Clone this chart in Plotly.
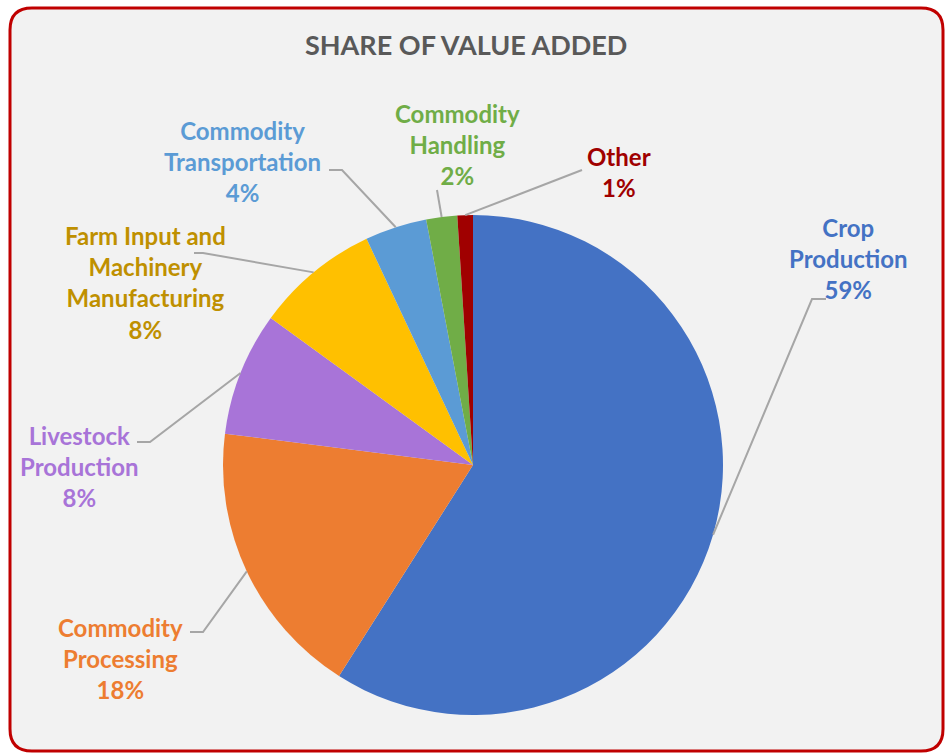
import math
import plotly.graph_objects as go

W, H = 948, 755

# ---- data ----
categories = ["Crop Production", "Commodity Processing", "Livestock Production",
              "Farm Input and Machinery Manufacturing", "Commodity Transportation",
              "Commodity Handling", "Other"]
label_lines = ["Crop<br>Production", "Commodity<br>Processing", "Livestock<br>Production",
               "Farm Input and<br>Machinery<br>Manufacturing", "Commodity<br>Transportation",
               "Commodity<br>Handling", "Other"]
values = [59, 18, 8, 8, 4, 2, 1]

slice_colors = ["#4472C4", "#ED7D31", "#A874D8", "#FFC000", "#5B9BD5", "#70AD47", "#A00000"]
text_colors = ["#4472C4", "#ED7D31", "#A874D8", "#BF9000", "#5B9BD5", "#70AD47", "#A00000"]

# label block centres (px) and leader elbow points (px)
label_pos = [(848, 259), (120, 658), (79, 466), (145, 282), (243, 162), (457, 144), (619, 172)]
elbows = [[(826, 299), (812, 299)],
          [(190, 632), (203, 632)],
          [(137, 442), (150, 442)],
          [(194, 253), (203, 253)],
          [(329, 170), (342, 170)],
          [(437, 190)],
          [(582, 170)]]

# pie geometry (px)
CX, CY, R = 473, 465, 250


def px(x):
    return x / W


def py(y):
    return 1 - y / H


fig = go.Figure()
fig.add_trace(go.Pie(
    labels=categories, values=values, sort=False, direction="clockwise", rotation=0,
    marker=dict(colors=slice_colors, line=dict(width=0)),
    textinfo="none", hoverinfo="label+percent", showlegend=False,
    domain=dict(x=[px(CX - R), px(CX + R)], y=[py(CY + R), py(CY - R)]),
))

shapes = []
# rounded background panel
x0, y0, x1, y1, r = 10, 8, 943, 751, 22
path = (f"M {px(x0 + r)},{py(y0)} L {px(x1 - r)},{py(y0)} "
        f"Q {px(x1)},{py(y0)} {px(x1)},{py(y0 + r)} L {px(x1)},{py(y1 - r)} "
        f"Q {px(x1)},{py(y1)} {px(x1 - r)},{py(y1)} L {px(x0 + r)},{py(y1)} "
        f"Q {px(x0)},{py(y1)} {px(x0)},{py(y1 - r)} L {px(x0)},{py(y0 + r)} "
        f"Q {px(x0)},{py(y0)} {px(x0 + r)},{py(y0)} Z")
shapes.append(dict(type="path", path=path, xref="paper", yref="paper",
                   fillcolor="#F2F2F2", line=dict(color="#C00000", width=3), layer="below"))

total = sum(values)
cum = 0
annotations = []
for i, v in enumerate(values):
    mid = (cum + v / 2) / total * 2 * math.pi
    cum += v
    ax = CX + R * math.sin(mid)
    ay = CY - R * math.cos(mid)
    pts = elbows[i] + [(ax, ay)]
    d = "M " + " L ".join(f"{px(x)},{py(y)}" for x, y in pts)
    shapes.append(dict(type="path", path=d, xref="paper", yref="paper",
                       line=dict(color="#A6A6A6", width=2)))
    lx, ly = label_pos[i]
    annotations.append(dict(
        x=px(lx), y=py(ly), xref="paper", yref="paper", showarrow=False,
        xanchor="center", yanchor="middle", align="center",
        text=f"<b>{label_lines[i]}<br>{v}%</b>",
        font=dict(family="Lato", size=24, color=text_colors[i])))

annotations.append(dict(x=px(466), y=py(45), xref="paper", yref="paper", showarrow=False,
                        xanchor="center", yanchor="middle",
                        text="<b>SHARE OF VALUE ADDED</b>",
                        font=dict(family="Lato", size=27, color="#595959")))

fig.update_layout(width=W, height=H, margin=dict(l=0, r=0, t=0, b=0),
                  paper_bgcolor="white", plot_bgcolor="white",
                  shapes=shapes, annotations=annotations)

fig.write_html("out.html", config={"displayModeBar": False},
               post_script="document.body.style.margin='0';")
